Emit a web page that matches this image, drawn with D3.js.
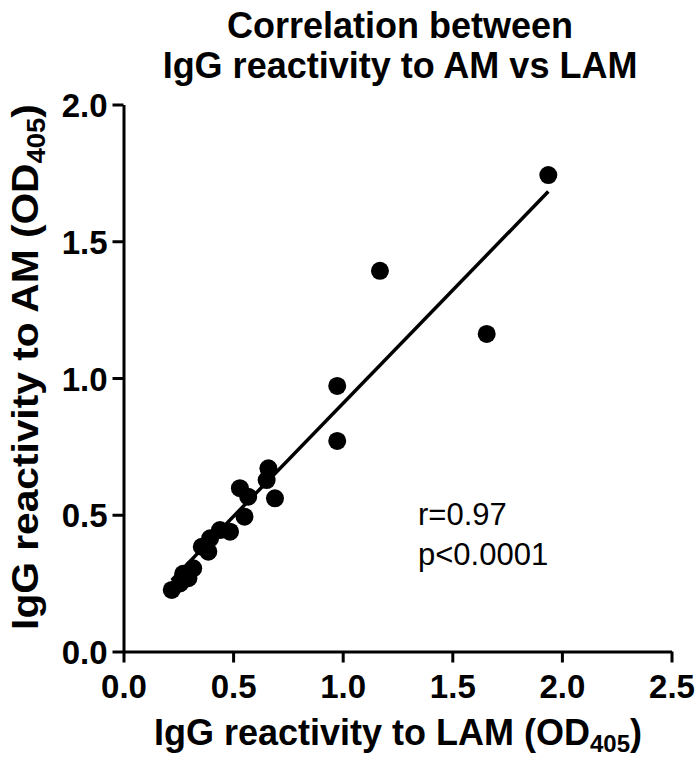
<!DOCTYPE html>
<html><head><meta charset="utf-8">
<script src="https://cdn.jsdelivr.net/npm/d3@7"></script>
<style>body{margin:0;background:#fff}svg{display:block}text{font-family:"Liberation Sans",Arial,sans-serif}</style>
</head><body>
<script>
const lamValues = [1.938,1.170,1.657,0.975,0.975,0.661,0.653,0.531,0.569,0.691,0.552,0.486,0.440,0.395,0.357,0.387,0.318,0.296,0.258,0.220,0.272];
const amValues  = [1.742,1.392,1.161,0.971,0.770,0.670,0.627,0.597,0.566,0.560,0.493,0.438,0.444,0.414,0.383,0.365,0.304,0.268,0.249,0.225,0.284];
const xTicks = [0,0.5,1.0,1.5,2.0,2.5];
const yTicks = [0,0.5,1.0,1.5,2.0];
const fitSlope = 0.827, fitIntercept = 0.079;
const titleLines = ["Correlation between","IgG reactivity to AM vs LAM"];
const statLines = ["r=0.97","p<0.0001"];

const W=700,H=764;
const svg=d3.select("body").append("svg").attr("width",W).attr("height",H);
const x=d3.scaleLinear().domain([0,2.5]).range([123.5,671.5]);
const y=d3.scaleLinear().domain([0,2]).range([651.5,104.5]);

// title
svg.selectAll(".title").data(titleLines).enter().append("text")
  .attr("x",400).attr("y",(d,i)=>38+i*40).attr("text-anchor","middle")
  .attr("font-size",36).attr("font-weight","bold").text(d=>d);

// axes
const xa=svg.append("g").attr("transform","translate(0,651.5)")
  .call(d3.axisBottom(x).tickValues(xTicks).tickFormat(d3.format(".1f")).tickSize(11).tickSizeOuter(0));
const ya=svg.append("g").attr("transform","translate(123.5,0)")
  .call(d3.axisLeft(y).tickValues(yTicks).tickFormat(d3.format(".1f")).tickSize(11).tickSizeOuter(0));
[xa,ya].forEach(g=>{
  g.select(".domain").attr("stroke","#000").attr("stroke-width",3);
  g.selectAll(".tick line").attr("stroke","#000").attr("stroke-width",3);
  g.selectAll(".tick text").attr("font-size",33).attr("font-weight","bold").attr("fill","#000")
   .attr("font-family","'Liberation Sans',Arial,sans-serif");
});
xa.selectAll(".tick text").attr("dy",0).attr("y",46);
ya.selectAll(".tick text").attr("x",-16).attr("dy","0.37em");

// fit line
const xMin=d3.min(lamValues), xMax=d3.max(lamValues);
svg.append("line")
  .attr("x1",x(xMin)).attr("y1",y(fitIntercept+fitSlope*xMin))
  .attr("x2",x(xMax)).attr("y2",y(fitIntercept+fitSlope*xMax))
  .attr("stroke","#000").attr("stroke-width",3.5);

// points
svg.selectAll("circle").data(lamValues).enter().append("circle")
  .attr("cx",d=>x(d)).attr("cy",(d,i)=>y(amValues[i])).attr("r",9).attr("fill","#000");

// stats
svg.selectAll(".stat").data(statLines).enter().append("text")
  .attr("x",418).attr("y",(d,i)=>525+i*40).attr("font-size",31).text(d=>d);

// axis labels
const xl=svg.append("text").attr("x",398).attr("y",745).attr("text-anchor","middle")
  .attr("font-size",36).attr("font-weight","bold");
xl.append("tspan").text("IgG reactivity to LAM (OD");
xl.append("tspan").attr("font-size",24).attr("dy",7).text("405");
xl.append("tspan").attr("dy",-7).text(")");

const yl=svg.append("text").attr("transform","translate(38,367) scale(1,1.1) rotate(-90)").attr("text-anchor","middle")
  .attr("font-size",37).attr("font-weight","bold");
yl.append("tspan").text("IgG reactivity to AM (OD");
yl.append("tspan").attr("font-size",25).attr("dy",7).text("405");
yl.append("tspan").attr("dy",-7).text(")");
</script>
</body></html>
